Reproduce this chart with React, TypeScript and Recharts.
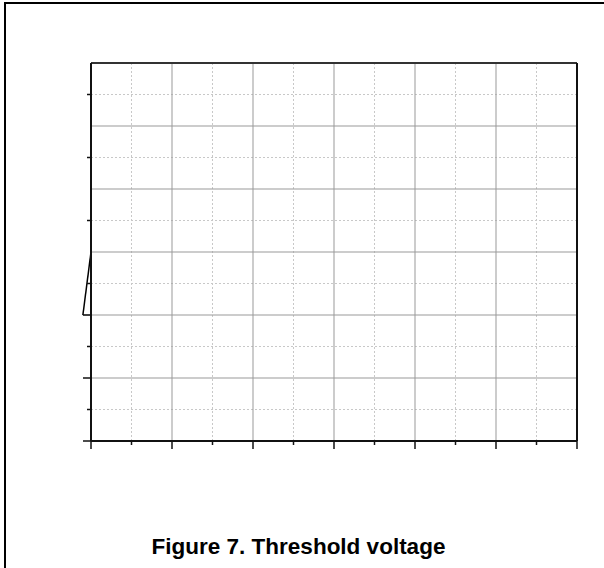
import { ComposedChart, Line, XAxis, YAxis, CartesianGrid, ReferenceLine } from "recharts";

const majorX = [0, 1, 2, 3, 4, 5, 6];
const minorX = [0.5, 1.5, 2.5, 3.5, 4.5, 5.5];
const gridY = [0, 1, 2, 3, 4, 5, 6];
const majorYTicks = [0, 1];
const minorY = [0.5, 1.5, 2.5, 3.5, 4.5, 5.5];

// the small trace at the left edge of the plot
const traceX = [0, -0.1, 0];
const traceY = [3, 2, 2];

const noLabel = () => <g />;

export default function App() {
  const rows = traceX.map((x, i) => ({ x, y: traceY[i] }));
  const segments = rows.slice(1).map((p, i) => [rows[i], p]);

  return (
    <div style={{ position: "absolute", left: 0, top: 0, width: 604, height: 568, background: "#fff" }}>
      <div style={{
        position: "absolute", left: 4, top: 2, width: 600, height: 566,
        borderTop: "2px solid #000", borderLeft: "2px solid #000", boxSizing: "border-box"
      }} />
      <div style={{ position: "absolute", left: 0, top: 0 }}>
        <ComposedChart width={604} height={568} data={rows} margin={{ top: 63, right: 27, bottom: 125, left: 89 }}>
          <CartesianGrid xAxisId="x" yAxisId="y" verticalValues={minorX} horizontalValues={minorY}
            stroke="#c8c8c8" strokeDasharray="2 2" />
          <CartesianGrid xAxisId="x" yAxisId="y" verticalValues={majorX} horizontalValues={gridY}
            stroke="#999" />

          <XAxis xAxisId="x" dataKey="x" type="number" domain={[0, 6]} allowDataOverflow ticks={majorX} height={1}
            tickSize={8} tick={noLabel} tickLine={{ stroke: "#111", strokeWidth: 1.5 }}
            axisLine={{ stroke: "#111", strokeWidth: 2 }} />
          <XAxis xAxisId="xm" dataKey="x" type="number" domain={[0, 6]} allowDataOverflow ticks={minorX} height={1}
            tickSize={3} tick={noLabel} tickLine={{ stroke: "#111", strokeWidth: 1.5 }} axisLine={false} />
          <YAxis yAxisId="y" type="number" domain={[0, 6]} ticks={majorYTicks} width={1}
            tickSize={8} tick={noLabel} tickLine={{ stroke: "#111", strokeWidth: 1.5 }}
            axisLine={{ stroke: "#111", strokeWidth: 2 }} />
          <YAxis yAxisId="ym" type="number" domain={[0, 6]} ticks={minorY} width={1}
            tickSize={3} tick={noLabel} tickLine={{ stroke: "#111", strokeWidth: 1.5 }} axisLine={false} />

          <ReferenceLine xAxisId="x" yAxisId="y" y={6} stroke="#333" strokeWidth={2} />
          <ReferenceLine xAxisId="x" yAxisId="y" x={6} stroke="#111" strokeWidth={2} />

          <Line xAxisId="x" yAxisId="y" dataKey="y" stroke="#000" strokeWidth={1.5} dot={false}
            isAnimationActive={false} />
          <Line xAxisId="xm" yAxisId="ym" dataKey="y" stroke="none" dot={false} isAnimationActive={false} />

          {segments.map((seg, i) => (
            <ReferenceLine key={i} xAxisId="x" yAxisId="y" segment={seg} ifOverflow="visible"
              stroke="#000" strokeWidth={1.5} />
          ))}
        </ComposedChart>
      </div>
      <div style={{
        position: "absolute", left: 0, width: 597, top: 534, textAlign: "center",
        fontFamily: "'Liberation Sans', Arial, sans-serif", fontWeight: 700, fontSize: 22.5, color: "#000"
      }}>
        Figure 7. Threshold voltage
      </div>
    </div>
  );
}
